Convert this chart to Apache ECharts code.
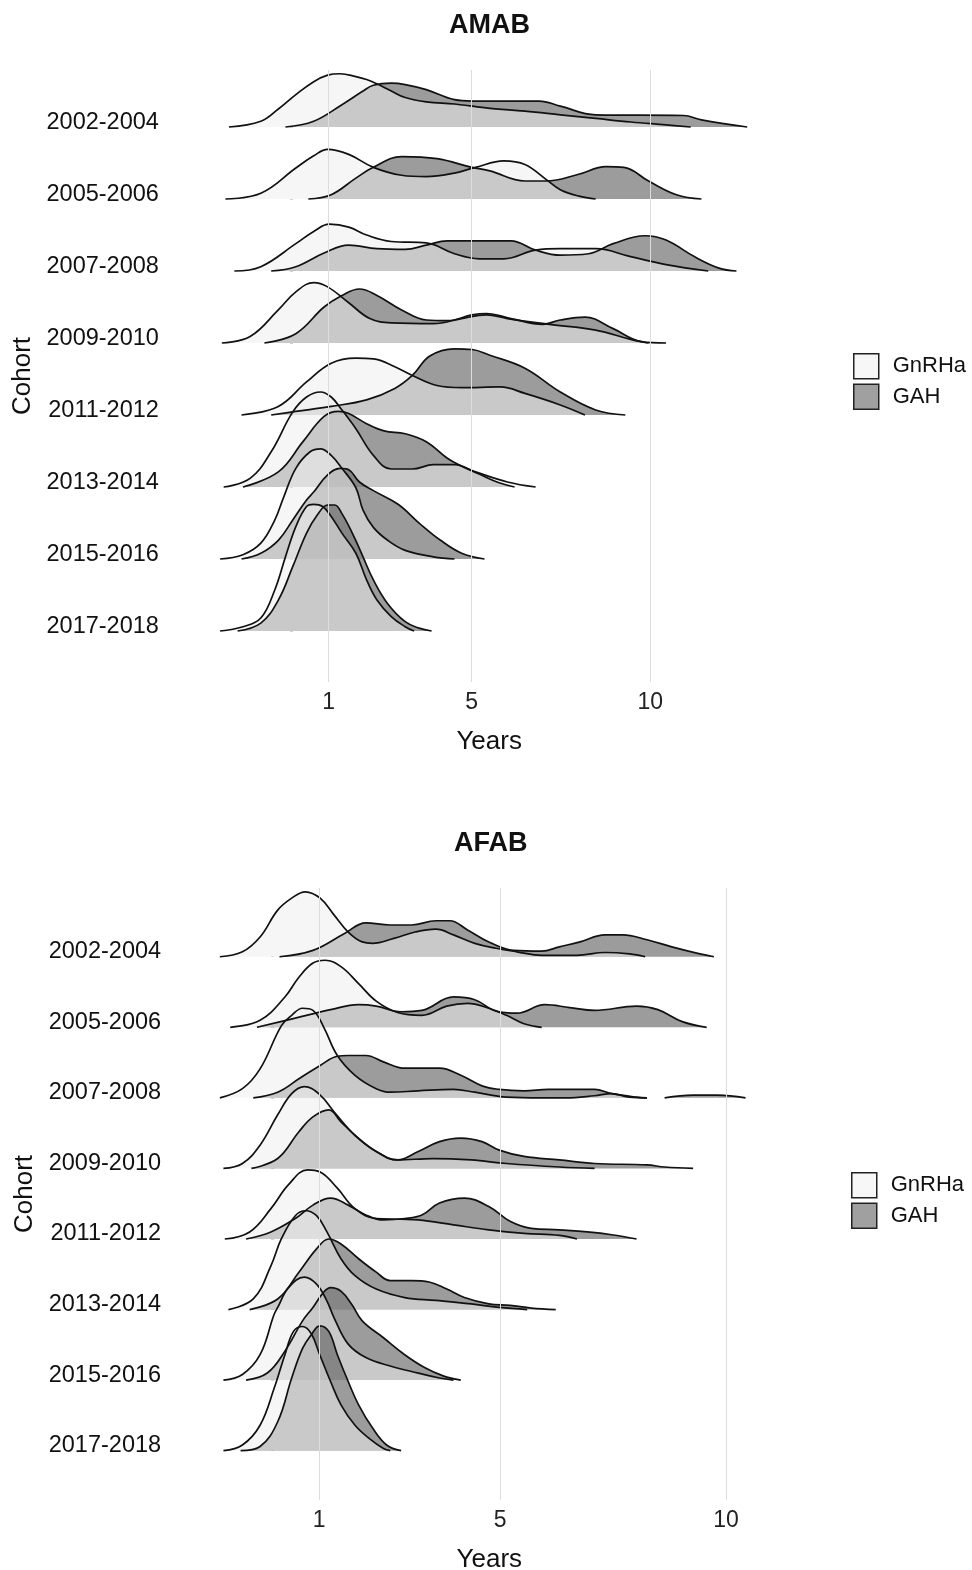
<!DOCTYPE html>
<html><head><meta charset="utf-8">
<script src="https://cdn.jsdelivr.net/npm/echarts@6/dist/echarts.min.js"></script>
<style>html,body{margin:0;padding:0;background:#fff}#c{width:972px;height:1570px}</style>
</head><body><div id="c"></div>
<script>
const cohorts = ['2002-2004','2005-2006','2007-2008','2009-2010','2011-2012','2013-2014','2015-2016','2017-2018'];
const xTicks = [1, 5, 10];
const groups = ['GnRHa', 'GAH'];

// AMAB densities: [years, ridge height in row units]
const amabGnRHa2002 = [[-1.79,0],[-0.9,0.08],[-0.41,0.25],[0.08,0.45],[0.58,0.63],[0.97,0.72],[1.32,0.74],[1.76,0.7],[2.06,0.66],[2.35,0.6],[2.75,0.5],[3.14,0.41],[3.73,0.35],[4.52,0.32],[5.51,0.26],[6.49,0.22],[7.48,0.17],[8.47,0.12],[9.45,0.07],[10.44,0.03],[11.13,0]];
const amabGAH2002 = [[-0.21,0],[0.58,0.08],[1.37,0.31],[1.96,0.5],[2.25,0.58],[2.75,0.61],[3.14,0.59],[3.73,0.52],[4.52,0.38],[5.01,0.36],[6.89,0.36],[7.48,0.29],[8.47,0.17],[10.93,0.16],[11.43,0.1],[12.71,0]];
const amabGnRHa2005 = [[-1.89,0],[-0.9,0.08],[0.08,0.43],[0.58,0.6],[0.97,0.69],[1.56,0.62],[2.25,0.44],[3.04,0.33],[3.73,0.31],[4.52,0.36],[5.11,0.44],[5.9,0.53],[6.49,0.48],[7.09,0.27],[7.48,0.13],[8.0,0.04],[8.47,0]];
const amabGAH2005 = [[0.43,0],[1.07,0.06],[1.76,0.29],[2.25,0.44],[3.04,0.59],[4.03,0.56],[5.01,0.44],[5.51,0.39],[6.49,0.25],[7.09,0.25],[7.97,0.34],[8.76,0.45],[9.26,0.44],[9.95,0.25],[10.73,0.06],[11.43,0]];
const amabGnRHa2007 = [[-1.64,0],[-0.9,0.06],[0.08,0.38],[0.58,0.55],[1.02,0.65],[1.56,0.61],[2.06,0.5],[2.75,0.41],[3.73,0.39],[4.52,0.24],[5.21,0.17],[5.9,0.17],[6.79,0.29],[7.48,0.31],[8.47,0.31],[9.45,0.2],[10.44,0.09],[11.62,0]];
const amabGAH2007 = [[-0.61,0],[0.08,0.06],[0.87,0.25],[1.56,0.36],[2.35,0.31],[3.14,0.3],[3.73,0.36],[4.32,0.42],[5.21,0.42],[6.1,0.42],[6.79,0.29],[7.48,0.22],[8.27,0.24],[8.96,0.38],[9.85,0.49],[10.44,0.43],[11.23,0.2],[11.92,0.04],[12.41,0]];
const amabGnRHa2009 = [[-1.99,0],[-1.2,0.09],[-0.41,0.46],[0.08,0.71],[0.58,0.84],[0.97,0.78],[1.56,0.56],[2.15,0.34],[2.75,0.28],[3.93,0.27],[4.72,0.34],[5.41,0.39],[6.0,0.34],[7.18,0.26],[8.47,0.18],[9.45,0.05],[9.95,0]];
const amabGAH2009 = [[-0.8,0],[0.08,0.13],[0.87,0.5],[1.37,0.66],[1.86,0.75],[2.35,0.66],[3.04,0.46],[3.73,0.32],[4.32,0.31],[5.01,0.39],[5.41,0.41],[6.1,0.34],[6.99,0.26],[7.48,0.32],[8.17,0.36],[8.96,0.2],[9.75,0.02],[10.44,0]];
const amabGnRHa2011 = [[-1.44,0],[-0.41,0.12],[0.38,0.46],[1.07,0.72],[1.76,0.79],[2.25,0.78],[2.85,0.67],[3.34,0.55],[4.03,0.41],[4.72,0.38],[5.8,0.39],[6.49,0.3],[7.48,0.14],[8.17,0]];
const amabGAH2011 = [[-0.61,0],[0.08,0.05],[1.07,0.12],[2.06,0.21],[2.85,0.37],[3.34,0.55],[3.83,0.82],[4.52,0.92],[5.01,0.91],[5.51,0.83],[6.49,0.65],[7.48,0.32],[8.47,0.07],[9.3,0]];
const amabGnRHa2013 = [[-1.94,0],[-1.2,0.12],[-0.61,0.49],[-0.01,1.04],[0.38,1.25],[0.77,1.32],[1.07,1.25],[1.37,1.07],[1.76,0.81],[2.25,0.44],[2.75,0.25],[3.34,0.25],[3.93,0.31],[4.52,0.31],[5.11,0.21],[6.0,0.07],[6.79,0]];
const amabGAH2013 = [[-1.4,0],[-0.41,0.21],[0.28,0.63],[0.87,0.98],[1.27,1.05],[1.56,1.02],[2.06,0.88],[2.55,0.78],[3.14,0.74],[3.73,0.63],[4.32,0.4],[4.72,0.29],[5.21,0.18],[5.71,0.07],[6.2,0]];
const amabGnRHa2015 = [[-2.04,0],[-1.4,0.06],[-0.9,0.22],[-0.51,0.54],[-0.26,0.86],[0.08,1.26],[0.48,1.49],[0.77,1.53],[1.07,1.44],[1.37,1.26],[1.76,0.99],[1.96,0.68],[2.25,0.44],[2.65,0.26],[3.14,0.12],[3.93,0.03],[4.52,0]];
const amabGAH2015 = [[-1.44,0],[-0.9,0.08],[-0.41,0.26],[-0.01,0.54],[0.38,0.82],[0.58,0.93],[0.97,1.17],[1.32,1.26],[1.56,1.24],[1.86,1.07],[2.25,0.95],[2.94,0.76],[3.53,0.5],[4.13,0.26],[4.72,0.08],[5.36,0]];
const amabGnRHa2017 = [[-2.04,0],[-1.4,0.06],[-0.9,0.18],[-0.51,0.57],[-0.21,1.03],[0.08,1.45],[0.38,1.73],[0.58,1.76],[0.83,1.73],[1.07,1.59],[1.37,1.36],[1.76,1.08],[2.06,0.71],[2.35,0.43],[2.75,0.2],[3.14,0.06],[3.39,0]];
const amabGAH2017 = [[-1.55,0],[-0.9,0.11],[-0.41,0.43],[-0.01,0.89],[0.38,1.36],[0.68,1.61],[0.97,1.75],[1.17,1.75],[1.37,1.63],[1.66,1.36],[1.96,1.03],[2.25,0.71],[2.65,0.38],[3.14,0.13],[3.53,0.04],[3.88,0]];

// AFAB densities
const afabGnRHa2002 = [[-1.2,0],[-0.7,0.07],[-0.31,0.28],[0.08,0.66],[0.39,0.83],[0.69,0.92],[1.02,0.83],[1.33,0.59],[1.64,0.35],[1.95,0.21],[2.18,0.19],[2.65,0.26],[3.12,0.35],[3.58,0.39],[3.97,0.31],[4.44,0.19],[4.91,0.12],[5.37,0.07],[5.92,0.02],[6.7,0.02],[7.32,0.06],[7.86,0.04],[8.21,0]];
const afabGAH2002 = [[0.12,0],[0.86,0.09],[1.56,0.33],[2.03,0.48],[2.57,0.45],[3.04,0.45],[3.58,0.51],[3.89,0.51],[4.28,0.38],[4.75,0.21],[5.3,0.09],[5.92,0.08],[6.31,0.14],[6.77,0.21],[7.32,0.31],[7.71,0.31],[8.25,0.24],[8.8,0.14],[9.42,0.04],[9.73,0]];
const afabGnRHa2005 = [[-0.97,0],[-0.31,0.1],[0.24,0.43],[0.55,0.71],[0.86,0.91],[1.13,0.95],[1.48,0.86],[1.87,0.62],[2.26,0.37],[2.73,0.21],[3.27,0.17],[3.82,0.3],[4.28,0.34],[4.75,0.27],[5.14,0.17],[5.53,0.05],[5.92,0]];
const afabGAH2005 = [[-0.38,0],[0.47,0.13],[1.25,0.25],[1.87,0.32],[2.26,0.3],[2.81,0.22],[3.27,0.24],[3.97,0.43],[4.44,0.39],[4.91,0.23],[5.37,0.2],[5.99,0.32],[6.54,0.28],[7.09,0.24],[8.02,0.3],[8.49,0.25],[9.03,0.08],[9.57,0]];
const afabGnRHa2007 = [[-1.2,0],[-0.7,0.13],[-0.31,0.41],[0.16,1.02],[0.39,1.17],[0.63,1.27],[0.86,1.24],[1.1,1.0],[1.4,0.6],[1.79,0.32],[2.26,0.13],[2.57,0.08],[3.19,0.1],[3.97,0.12],[4.44,0.08],[5.14,0.01],[5.9,0],[6.46,0],[7.09,0.03],[7.47,0.06],[7.86,0.01],[8.25,0]];
const afabGAH2007 = [[-0.46,0],[0.08,0.08],[0.55,0.27],[1.02,0.46],[1.4,0.59],[1.64,0.6],[2.03,0.6],[2.42,0.51],[2.89,0.42],[3.66,0.42],[4.13,0.32],[4.6,0.17],[4.98,0.12],[5.53,0.1],[6.07,0.12],[7.09,0.12],[7.47,0.06],[8.02,0.01],[8.25,0],[8.45,'-'],[8.64,0],[9.27,0.04],[9.81,0.04],[10.43,0]];
const afabGnRHa2009 = [[-1.12,0],[-0.7,0.07],[-0.31,0.33],[0.08,0.76],[0.39,1.06],[0.67,1.16],[1.02,1.04],[1.33,0.8],[1.79,0.47],[2.26,0.24],[2.73,0.12],[3.51,0.14],[4.36,0.12],[5.14,0.07],[6.31,0.02],[7.09,0]];
const afabGAH2009 = [[-0.5,0],[0.08,0.14],[0.55,0.52],[0.86,0.73],[1.21,0.83],[1.48,0.66],[1.79,0.47],[2.26,0.24],[2.73,0.12],[3.19,0.24],[3.66,0.38],[4.13,0.43],[4.6,0.38],[4.98,0.26],[5.53,0.17],[6.31,0.12],[7.09,0.07],[8.25,0.05],[8.64,0.02],[9.27,0]];
const afabGnRHa2011 = [[-1.09,0],[-0.54,0.1],[-0.07,0.43],[0.32,0.77],[0.74,0.98],[1.02,0.95],[1.4,0.72],[1.79,0.43],[2.26,0.29],[2.81,0.28],[3.19,0.27],[3.97,0.2],[4.75,0.13],[5.53,0.08],[6.31,0.05],[6.7,0]];
const afabGAH2011 = [[-0.62,0],[-0.07,0.1],[0.47,0.29],[0.86,0.48],[1.25,0.58],[1.64,0.48],[2.03,0.34],[2.42,0.27],[2.89,0.29],[3.27,0.34],[3.66,0.51],[4.21,0.58],[4.75,0.46],[5.22,0.25],[5.69,0.15],[6.31,0.13],[6.93,0.1],[7.47,0.06],[8.02,0]];
const afabGnRHa2013 = [[-1.01,0],[-0.46,0.15],[-0.07,0.62],[0.16,1.0],[0.47,1.33],[0.7,1.4],[0.94,1.33],[1.17,1.1],[1.48,0.72],[1.79,0.48],[2.26,0.29],[2.89,0.17],[3.58,0.13],[4.36,0.08],[4.98,0.03],[5.6,0]];
const afabGAH2013 = [[-0.54,0],[0.08,0.15],[0.55,0.53],[0.94,0.86],[1.21,1.0],[1.48,0.93],[1.87,0.72],[2.26,0.53],[2.57,0.41],[3.04,0.41],[3.43,0.39],[3.82,0.29],[4.21,0.17],[4.75,0.08],[5.22,0.06],[5.69,0.02],[6.23,0]];
const afabGnRHa2015 = [[-1.12,0],[-0.7,0.08],[-0.31,0.36],[0.0,0.93],[0.08,1.03],[0.32,1.31],[0.67,1.46],[0.94,1.36],[1.17,1.12],[1.33,0.88],[1.64,0.51],[2.03,0.32],[2.57,0.2],[3.19,0.1],[3.66,0.03],[3.97,0]];
const afabGAH2015 = [[-0.62,0],[-0.15,0.1],[0.24,0.41],[0.63,0.84],[0.86,1.03],[1.09,1.24],[1.25,1.31],[1.48,1.26],[1.72,1.07],[1.95,0.84],[2.42,0.6],[2.89,0.36],[3.35,0.17],[3.74,0.06],[4.13,0]];
const afabGnRHa2017 = [[-1.12,0],[-0.7,0.08],[-0.31,0.36],[0.0,0.88],[0.24,1.36],[0.43,1.69],[0.63,1.76],[0.82,1.66],[1.01,1.36],[1.25,0.98],[1.48,0.65],[1.79,0.36],[2.11,0.17],[2.42,0.03],[2.57,0]];
const afabGAH2017 = [[-0.74,0],[-0.31,0.06],[0.08,0.41],[0.39,1.03],[0.63,1.45],[0.82,1.64],[1.01,1.77],[1.21,1.69],[1.4,1.36],[1.64,0.98],[1.87,0.65],[2.18,0.32],[2.49,0.08],[2.81,0]];

const amabGnRHa = [amabGnRHa2002, amabGnRHa2005, amabGnRHa2007, amabGnRHa2009, amabGnRHa2011, amabGnRHa2013, amabGnRHa2015, amabGnRHa2017];
const amabGAH = [amabGAH2002, amabGAH2005, amabGAH2007, amabGAH2009, amabGAH2011, amabGAH2013, amabGAH2015, amabGAH2017];
const afabGnRHa = [afabGnRHa2002, afabGnRHa2005, afabGnRHa2007, afabGnRHa2009, afabGnRHa2011, afabGnRHa2013, afabGnRHa2015, afabGnRHa2017];
const afabGAH = [afabGAH2002, afabGAH2005, afabGAH2007, afabGAH2009, afabGAH2011, afabGAH2013, afabGAH2015, afabGAH2017];

const FONT = 'Liberation Sans, Arial, sans-serif';
const FILL = { GnRHa: { color: '#efefef', opacity: 0.55 }, GAH: { color: '#5a5a5a', opacity: 0.6 } };
const rows = cohorts.map((c, i) => cohorts.length - 1 - i);

function ridge(name, pts, row, ai) {
  return {
    type: 'line', name, xAxisIndex: ai, yAxisIndex: ai,
    data: pts.map(p => [p[0], p[1] === '-' ? '-' : row + p[1]]),
    smooth: 0.4, symbol: 'none', silent: true, z: 2,
    lineStyle: { color: '#111', width: 1.7 },
    itemStyle: { color: FILL[name].color },
    areaStyle: { origin: row, color: FILL[name].color, opacity: FILL[name].opacity },
    emphasis: { disabled: true }
  };
}
function gridLines(ai) {
  return {
    type: 'line', name: 'grid' + ai, xAxisIndex: ai, yAxisIndex: ai, data: [], z: 1, silent: true,
    markLine: { silent: true, symbol: ['none', 'none'], label: { show: false },
      lineStyle: { color: '#dddddd', width: 1, type: 'solid' },
      data: xTicks.map(v => ({ xAxis: v })) }
  };
}
const series = [gridLines(0), gridLines(1)];
[[amabGnRHa, amabGAH, 0], [afabGnRHa, afabGAH, 1]].forEach(([gn, ga, ai]) => {
  cohorts.forEach((c, i) => {
    series.push(ridge('GAH', ga[i], rows[i], ai));
    series.push(ridge('GnRHa', gn[i], rows[i], ai));
  });
});

function xAxis(ai, min, max, namePad) {
  return { type: 'value', gridIndex: ai, min, max,
    axisLine: { show: false }, axisTick: { show: false }, splitLine: { show: false },
    axisLabel: { customValues: xTicks, fontSize: 23, color: '#222', margin: 9, fontFamily: FONT },
    name: 'Years', nameLocation: 'middle', nameGap: 47,
    nameTextStyle: { fontSize: 26, color: '#111', fontFamily: FONT, padding: namePad } };
}
function yAxis(ai, min, max) {
  const vals = rows.slice().sort((a, b) => a - b);
  return { type: 'value', gridIndex: ai, min, max,
    axisLine: { show: false }, splitLine: { show: false },
    axisTick: { show: true, customValues: vals, length: 3, lineStyle: { color: '#d0d0d0' } },
    axisLabel: { customValues: vals, formatter: v => cohorts[cohorts.length - 1 - Math.round(v)],
      fontSize: 23.5, color: '#111', margin: 9, verticalAlign: 'bottom', lineHeight: 10, fontFamily: FONT },
    name: 'Cohort', nameLocation: 'middle', nameRotate: 90, nameGap: 128,
    nameTextStyle: { fontSize: 26, color: '#111', fontFamily: FONT } };
}
function legend(left, top) {
  return { left, top, orient: 'vertical', icon: 'rect', itemWidth: 25, itemHeight: 25, itemGap: 4,
    padding: 0, selectedMode: false,
    textStyle: { fontSize: 22, color: '#111', fontFamily: FONT, padding: [0, 0, 0, 9] },
    data: [
      { name: 'GnRHa', itemStyle: { color: '#f7f7f7', borderColor: '#222', borderWidth: 1.5 } },
      { name: 'GAH', itemStyle: { color: '#a0a0a0', borderColor: '#222', borderWidth: 1.5 } }
    ] };
}

const chart = echarts.init(document.getElementById('c'), null, { renderer: 'canvas' });
chart.setOption({
  backgroundColor: '#ffffff',
  animation: false,
  textStyle: { fontFamily: FONT },
  title: [
    { text: 'AMAB', left: 444, top: 7, textStyle: { fontSize: 27, fontWeight: 'bold', color: '#111', fontFamily: FONT } },
    { text: 'AFAB', left: 449, top: 825, textStyle: { fontSize: 27, fontWeight: 'bold', color: '#111', fontFamily: FONT } }
  ],
  legend: [legend(853, 353), legend(851, 1172)],
  grid: [
    { left: 167.9, top: 70, width: 607.5, height: 612, containLabel: false, outerBoundsMode: 'none' },
    { left: 170.1, top: 888, width: 646.4, height: 612, containLabel: false, outerBoundsMode: 'none' }
  ],
  xAxis: [xAxis(0, -3.5, 13.5, [0, 0, 0, 35]), xAxis(1, -2.3, 12, [0, 8, 0, 0])],
  yAxis: [yAxis(0, -0.708, 7.792), yAxis(1, -0.699, 7.974)],
  series
});
</script></body></html>
